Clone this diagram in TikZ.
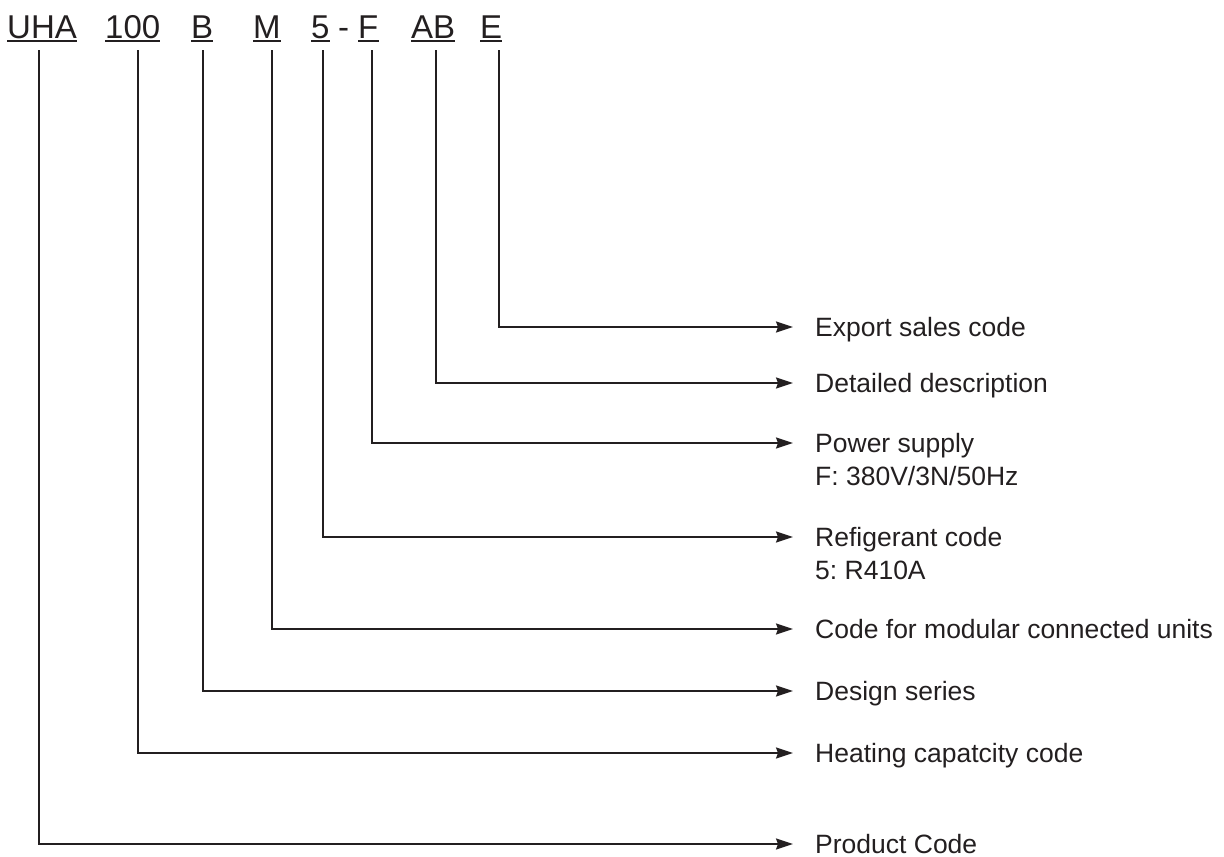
\documentclass[tikz,border=0pt]{standalone}
\usepackage{fontspec}
\setmainfont{Liberation Sans}
\usetikzlibrary{arrows.meta}
\definecolor{ink}{HTML}{231F20}
\frenchspacing
\begin{document}
\begin{tikzpicture}[x=1pt,y=-1pt,
  code/.style={anchor=base west, inner sep=0pt, font=\fontsize{33}{38}\selectfont, text=ink},
  lab/.style={anchor=west, inner sep=0pt, text height=19pt, text depth=0pt, font=\fontsize{26.5}{33}\selectfont, text=ink},
  uline/.style={draw=ink, line width=1.4pt},
  conn/.style={draw=ink, line width=1.6pt, -{Stealth[length=17pt,width=11pt,inset=2pt]}},
]
\useasboundingbox (0,0) rectangle (1224,857);
% code tokens
\node[code] (uha) at (7,38) {UHA};
\node[code] (c100) at (105,38) {100};
\node[code] (cb) at (191,38) {B};
\node[code] (cm) at (253,38) {M};
\node[code] (c5) at (311,38) {5};
\node[code] (dash) at (338,38) {-};
\node[code] (cf) at (358,38) {F};
\node[code] (cab) at (411,38) {AB};
\node[code] (ce) at (480,38) {E};
\foreach \n in {uha,c100,cb,cm,c5,cf,cab,ce}
  \draw[uline] ([yshift=-3pt]\n.base west) -- ([yshift=-3pt]\n.base east);
% label texts
\node[lab] (le) at (815,327) {Export sales code};
\node[lab] (lab) at (815,383) {Detailed description};
\node[lab] (lf) at (815,443) {Power supply};
\node[lab] (lf2) at (815,476) {F: 380V/3N/50Hz};
\node[lab] (l5) at (815,537) {Refigerant code};
\node[lab] (l52) at (815,570) {5: R410A};
\node[lab] (lm) at (815,629) {Code for modular connected units};
\node[lab] (lb) at (815,691) {Design series};
\node[lab] (l100) at (815,753) {Heating capatcity code};
\node[lab] (luha) at (815,844) {Product Code};
% start points of the connectors
\coordinate (suha) at (39,50);
\coordinate (s100) at (138,50);
\coordinate (sb) at (203,50);
\coordinate (sm) at (272,50);
\coordinate (s5) at (323,50);
\coordinate (sf) at (372,50);
\coordinate (sab) at (436,50);
\coordinate (se) at (499,50);
% connectors
\draw[conn] (se) |- ([xshift=-22pt]le.west);
\draw[conn] (sab) |- ([xshift=-22pt]lab.west);
\draw[conn] (sf) |- ([xshift=-22pt]lf.west);
\draw[conn] (s5) |- ([xshift=-22pt]l5.west);
\draw[conn] (sm) |- ([xshift=-22pt]lm.west);
\draw[conn] (sb) |- ([xshift=-22pt]lb.west);
\draw[conn] (s100) |- ([xshift=-22pt]l100.west);
\draw[conn] (suha) |- ([xshift=-22pt]luha.west);
\end{tikzpicture}
\end{document}
